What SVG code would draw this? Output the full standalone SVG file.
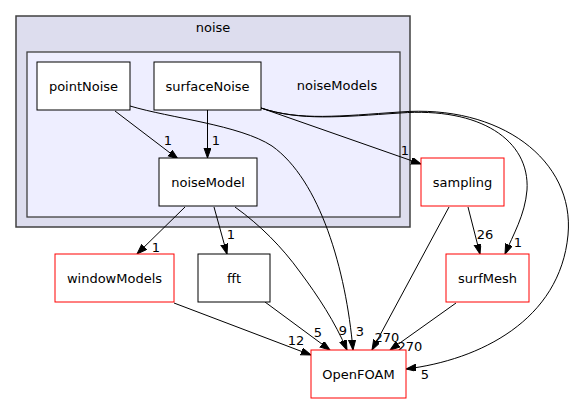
<svg xmlns="http://www.w3.org/2000/svg" width="575" height="404" viewBox="0 0 575 404">
<style>
text{font-family:"DejaVu Sans","Liberation Sans",sans-serif;font-size:13px;fill:#000;text-anchor:middle}
.lbl{font-size:13px}
.node rect{fill:#fff;stroke:#000;stroke-width:1}
.red rect{stroke:#ff0000}
.edges path{fill:none;stroke:#000;stroke-width:1;marker-end:url(#arr)}
</style>
<defs>
<marker id="arr" markerUnits="userSpaceOnUse" markerWidth="11" markerHeight="8" refX="10" refY="3.5" orient="auto">
<path d="M0,0 L10,3.5 L0,7 z" fill="#000" stroke="#000" stroke-width="1"/>
</marker>
</defs>
<rect width="575" height="404" fill="#fff"/>
<g id="cluster_noise">
<rect x="16" y="16" width="394" height="211" fill="#ddddee" stroke="#404040" stroke-width="1.5"/>
<text x="213" y="32">noise</text>
</g>
<g id="cluster_noiseModels">
<rect x="27" y="52" width="373" height="165" fill="#eeeeff" stroke="#404040" stroke-width="1.3"/>
<text x="337" y="90">noiseModels</text>
</g>
<g class="edges" id="edges">
<path d="M115,111 L178,159"/>
<path d="M207.5,110 L207.5,158"/>
<path d="M130,106 C170,118 240,125 272,146 C320,180 346,270 353,350"/>
<path d="M261,108 L421,164"/>
<path d="M261,108 C300,121 340,117 400,113 C480,107 530,140 527,190 C525,215 513,235 505,254"/>
<path d="M261,108 C300,121 340,116 400,112 C500,104 575,160 568,235 C560,320 480,360 406,369"/>
<path d="M185,207 L137,254"/>
<path d="M214,207 L227,254"/>
<path d="M235,207 C260,225 282,247 300,272 C318,296 335,322 347,350"/>
<path d="M174,303 L311,355"/>
<path d="M265,302 L330,350"/>
<path d="M449,207 L372,350"/>
<path d="M468,207 L480,254"/>
<path d="M456,303 L390,350"/>
</g>
<g id="edge_labels">
<text x="168" y="145">1</text>
<text x="216" y="145">1</text>
<text x="405" y="155">1</text>
<text x="518" y="247">1</text>
<text x="425" y="379">5</text>
<text x="156" y="252">1</text>
<text x="231" y="239">1</text>
<text x="343" y="335">9</text>
<text x="360" y="336">3</text>
<text x="296" y="345">12</text>
<text x="318" y="337">5</text>
<text x="387" y="342">270</text>
<text x="485" y="239">26</text>
<text x="410" y="351">270</text>
</g>
<g id="pointNoise" class="node"><rect x="37" y="62" width="93" height="48"/><text x="83.5" y="90.5">pointNoise</text></g>
<g id="surfaceNoise" class="node"><rect x="154" y="62" width="107" height="48"/><text x="207.5" y="90.5">surfaceNoise</text></g>
<g id="noiseModel" class="node"><rect x="159" y="158" width="98" height="48"/><text x="208" y="186.5">noiseModel</text></g>
<g id="windowModels" class="node red"><rect x="55" y="254" width="119" height="48"/><text x="114.5" y="282.5">windowModels</text></g>
<g id="fft" class="node"><rect x="198" y="254" width="72" height="48"/><text x="234" y="282.5">fft</text></g>
<g id="sampling" class="node red"><rect x="421" y="158" width="83" height="48"/><text x="462.5" y="186.5">sampling</text></g>
<g id="surfMesh" class="node red"><rect x="446" y="254" width="83" height="48"/><text x="487.5" y="282.5">surfMesh</text></g>
<g id="OpenFOAM" class="node red"><rect x="311" y="350" width="95" height="48"/><text x="358.5" y="378.5">OpenFOAM</text></g>
</svg>
